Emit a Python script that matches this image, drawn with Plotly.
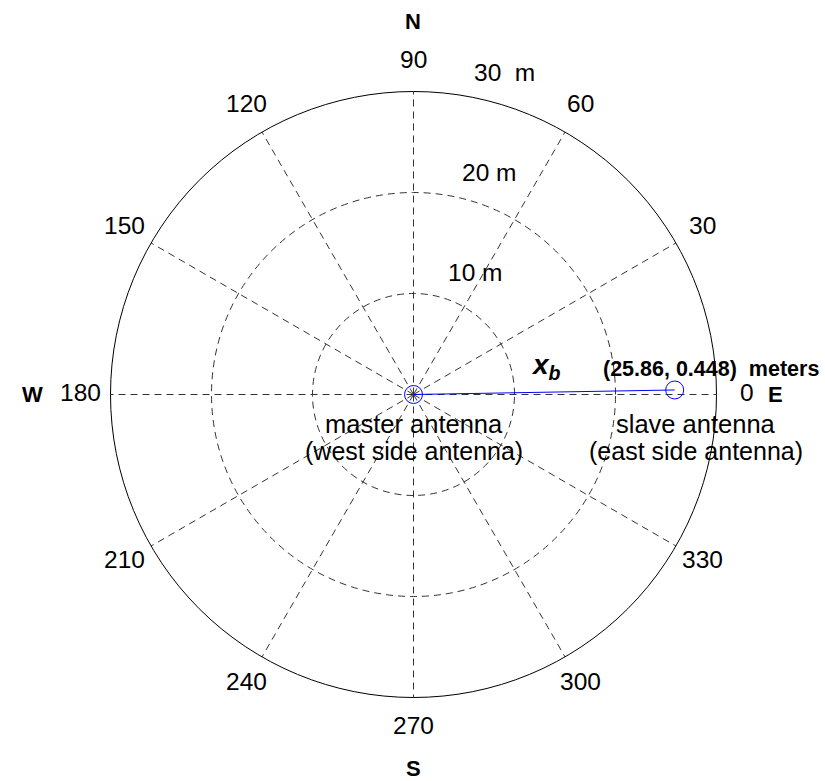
import numpy as np
import plotly.graph_objects as go

# Baseline vector from master to slave antenna (east, north), metres
baseline_east = 25.86
baseline_north = 0.448

# Polar grid definition
r_max = 30
ring_radii = [10, 20, 30]
ring_labels = ["10 m", "20 m", "30  m"]
angle_ticks = list(range(0, 360, 30))
angle_labels = [str(a) for a in angle_ticks]

baseline_r = float(np.hypot(baseline_east, baseline_north))
baseline_theta = float(np.degrees(np.arctan2(baseline_north, baseline_east)))

W, H = 825, 781
CX, CY, RAD = 413.5, 394.5, 303.0   # plot centre / outer radius in pixels

FONT = "Liberation Sans, Arial, Helvetica, sans-serif"
NBSP = "\u00a0"


def px(x):
    return x / W


def py(y):
    return 1 - y / H


def polar_to_px(r, theta_deg):
    """Pixel position of a polar point (r in data units, theta in degrees)."""
    a = np.radians(theta_deg)
    s = RAD / r_max
    return CX + r * s * np.cos(a), CY - r * s * np.sin(a)


fig = go.Figure()

# baseline vector and antenna markers
fig.add_trace(go.Scatterpolar(
    r=[0, baseline_r], theta=[0, baseline_theta],
    mode="lines", line=dict(color="#0000ff", width=1),
    hoverinfo="skip", showlegend=False,
))
fig.add_trace(go.Scatterpolar(
    r=[0, baseline_r], theta=[0, baseline_theta],
    mode="markers",
    marker=dict(symbol="circle-open", size=18, color="#0000ff",
                line=dict(width=1, color="#0000ff")),
    showlegend=False, cliponaxis=False,
))

annotations = []


def note(text, x, y, size, bold=False, italic=False, xanchor="center"):
    t = text
    if bold:
        t = "<b>" + t + "</b>"
    if italic:
        t = "<i>" + t + "</i>"
    annotations.append(dict(
        text=t, x=px(x), y=py(y), xref="paper", yref="paper",
        xanchor=xanchor, yanchor="middle", showarrow=False,
        font=dict(family=FONT, size=size, color="black"),
    ))


# angle labels centred at 1.1 * r_max, as MATLAB's polar() places them
for lab, ang in zip(angle_labels, angle_ticks):
    x, y = polar_to_px(1.1 * r_max, ang)
    note(lab, x, y - 2, 24.5)

# compass letters
note("N", 413, 21, 22, bold=True)
note("S", 413, 768, 22, bold=True)
note("E", 775, 394, 22, bold=True)
note("W", 32, 394, 22, bold=True)

# ring labels
for lab, (x, y) in zip(ring_labels, [(475, 272), (489, 173), (505, 72)]):
    note(lab, x, y, 24.5)

# baseline annotations
note("x<sub>b</sub>", 546, 367, 28, bold=True, italic=True)
note(f"({baseline_east:.2f}, {baseline_north:.3f})" + NBSP * 2 + "meters",
     601, 369, 21.5, bold=True, xanchor="left")

note("master antenna", 414, 424, 25.5)
note("(west side antenna)", 414, 451, 25)
note("slave antenna", 696, 424, 25.5)
note("(east side antenna)", 696, 451, 25)

grid_col = "#333333"
fig.update_layout(
    width=W, height=H,
    margin=dict(l=0, r=0, t=0, b=0),
    paper_bgcolor="white",
    showlegend=False,
    annotations=annotations,
    polar=dict(
        domain=dict(x=[px(CX - RAD), px(CX + RAD)],
                    y=[py(CY + RAD), py(CY - RAD)]),
        bgcolor="white",
        radialaxis=dict(
            range=[0, r_max], tickvals=ring_radii, showticklabels=False,
            ticks="", showline=False, showgrid=True,
            gridcolor=grid_col, gridwidth=1, griddash="7px,5px",
        ),
        angularaxis=dict(
            direction="counterclockwise", rotation=0,
            tickmode="array", tickvals=angle_ticks, showticklabels=False,
            ticks="", showline=True, linecolor="black", linewidth=1,
            showgrid=True, gridcolor=grid_col, gridwidth=1,
            griddash="7px,5px",
        ),
    ),
)

fig.write_html("out.html")
